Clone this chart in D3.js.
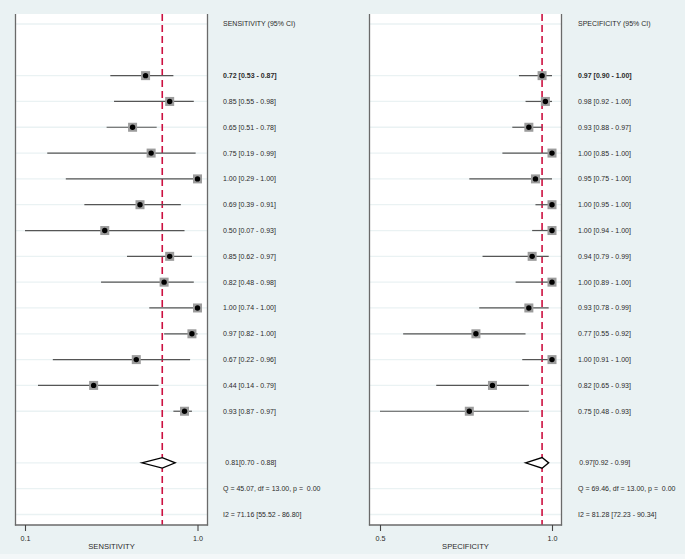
<!DOCTYPE html>
<html>
<head>
<meta charset="utf-8">
<script src="https://cdn.jsdelivr.net/npm/d3@7"></script>
<style>
  html, body { margin: 0; padding: 0; background: #eaf2f3; }
  svg { display: block; }
</style>
</head>
<body>
<svg id="chart" width="685" height="559"></svg>
<script>
// ---------- DATA ----------
const sensEst = [0.72, 0.85, 0.65, 0.75, 1.00, 0.69, 0.50, 0.85, 0.82, 1.00, 0.97, 0.67, 0.44, 0.93];
const sensLo  = [0.53, 0.55, 0.51, 0.19, 0.29, 0.39, 0.07, 0.62, 0.48, 0.74, 0.82, 0.22, 0.14, 0.87];
const sensHi  = [0.87, 0.98, 0.78, 0.99, 1.00, 0.91, 0.93, 0.97, 0.98, 1.00, 1.00, 0.96, 0.79, 0.97];

const specEst = [0.97, 0.98, 0.93, 1.00, 0.95, 1.00, 1.00, 0.94, 1.00, 0.93, 0.77, 1.00, 0.82, 0.75];
const specLo  = [0.90, 0.92, 0.88, 0.85, 0.75, 0.95, 0.94, 0.79, 0.89, 0.78, 0.55, 0.91, 0.65, 0.48];
const specHi  = [1.00, 1.00, 0.97, 1.00, 1.00, 1.00, 1.00, 0.99, 1.00, 0.99, 0.92, 1.00, 0.93, 0.93];

const sensPooled = [0.81, 0.70, 0.88];   // est, lo, hi
const specPooled = [0.97, 0.92, 0.99];

const headers    = ["SENSITIVITY (95% CI)", "SPECIFICITY (95% CI)"];
const axisTitles = ["SENSITIVITY", "SPECIFICITY"];
const qTexts     = ["Q = 45.07, df = 13.00, p =  0.00", "Q = 69.46, df = 13.00, p =  0.00"];
const i2Texts    = ["I2 = 71.16 [55.52 - 86.80]", "I2 = 81.28 [72.23 - 90.34]"];
const axisTicks  = [[0.07, 1.0], [0.48, 1.0]];   // min lower CI and 1.0, shown with one decimal

// ---------- LAYOUT ----------
const svg = d3.select("#chart");
const W = 685, H = 559;
const bg = "#eaf2f3";
svg.append("rect").attr("x", 0).attr("y", 0).attr("width", W).attr("height", H).attr("fill", bg);
svg.append("rect").attr("x", 0).attr("y", 554).attr("width", W).attr("height", 5).attr("fill", "#f3f7f8");

const rowY = d3.scaleLinear().domain([0, 19]).range([24, 514.5]);
const plotTop = 14, plotBottom = 525;
const fmt = d3.format(".2f");
const ciText = (e, l, h) => `${fmt(e)} [${fmt(l)} - ${fmt(h)}]`;

const panels = [
  { est: sensEst, lo: sensLo, hi: sensHi, pooled: sensPooled,
    frame: [15.5, 207.5], range: [25, 197.5], textX: 223, pooledTextX: 225.3,
    header: headers[0], title: axisTitles[0], q: qTexts[0], i2: i2Texts[0], ticks: axisTicks[0] },
  { est: specEst, lo: specLo, hi: specHi, pooled: specPooled,
    frame: [369.5, 561.5], range: [380, 552], textX: 578, pooledTextX: 579.3,
    header: headers[1], title: axisTitles[1], q: qTexts[1], i2: i2Texts[1], ticks: axisTicks[1] }
];

const txtColor = "#2a2a2a";
const fontFam = "'Liberation Sans', Arial, Helvetica, sans-serif";

panels.forEach(p => {
  const x = d3.scaleLinear().domain([p.ticks[0], p.ticks[1]]).range(p.range);
  const g = svg.append("g");
  const [fx0, fx1] = p.frame;

  // plot region
  g.append("rect").attr("x", fx0).attr("y", plotTop)
    .attr("width", fx1 - fx0).attr("height", plotBottom - plotTop).attr("fill", "#ffffff");

  // grid lines at content rows
  const gridRows = [0].concat(d3.range(2, 16)).concat([17, 18, 19]);
  g.selectAll(".grid").data(gridRows).join("line")
    .attr("x1", fx0).attr("x2", fx1)
    .attr("y1", d => rowY(d)).attr("y2", d => rowY(d))
    .attr("stroke", bg).attr("stroke-width", 1.3);

  // pooled dashed line
  g.append("line")
    .attr("x1", x(p.pooled[0])).attr("x2", x(p.pooled[0]))
    .attr("y1", plotTop).attr("y2", plotBottom)
    .attr("stroke", "#cc1040").attr("stroke-width", 1.6)
    .attr("stroke-dasharray", "7,4");

  const idx = d3.range(p.est.length);
  // CI lines
  g.selectAll(".ci").data(idx).join("line")
    .attr("x1", i => x(p.lo[i])).attr("x2", i => x(p.hi[i]))
    .attr("y1", i => rowY(i + 2)).attr("y2", i => rowY(i + 2))
    .attr("stroke", "#555555").attr("stroke-width", 1.2);
  // squares
  const s = 9;
  g.selectAll(".sq").data(idx).join("rect")
    .attr("x", i => x(p.est[i]) - s / 2).attr("y", i => rowY(i + 2) - s / 2)
    .attr("width", s).attr("height", s)
    .attr("fill", "#9c9c9c");
  // dots
  g.selectAll(".dot").data(idx).join("circle")
    .attr("cx", i => x(p.est[i])).attr("cy", i => rowY(i + 2))
    .attr("r", 2.7).attr("fill", "#000000");

  // diamond
  const dy = rowY(17), hh = 5.3;
  g.append("polygon")
    .attr("points", [[x(p.pooled[1]), dy], [x(p.pooled[0]), dy - hh], [x(p.pooled[2]), dy], [x(p.pooled[0]), dy + hh]]
      .map(d => d.join(",")).join(" "))
    .attr("fill", "#ffffff").attr("stroke", "#000000").attr("stroke-width", 1.3)
    .attr("stroke-linejoin", "miter");

  // frame: left, right, bottom
  const frameCol = "#6a6a6a";
  g.append("line").attr("x1", fx0).attr("x2", fx0).attr("y1", plotTop).attr("y2", plotBottom + 0.6)
    .attr("stroke", frameCol).attr("stroke-width", 1.3);
  g.append("line").attr("x1", fx1).attr("x2", fx1).attr("y1", plotTop).attr("y2", plotBottom + 0.6)
    .attr("stroke", frameCol).attr("stroke-width", 1.3);
  g.append("line").attr("x1", fx0 - 0.6).attr("x2", fx1 + 0.6).attr("y1", plotBottom).attr("y2", plotBottom)
    .attr("stroke", frameCol).attr("stroke-width", 1.3);

  // axis
  const axis = d3.axisBottom(x).tickValues(p.ticks).tickFormat(d3.format(".1f"))
    .tickSize(6).tickPadding(5);
  const ag = g.append("g").attr("transform", `translate(0,${plotBottom})`).call(axis);
  ag.select(".domain").remove();
  ag.selectAll(".tick line").attr("stroke", "#444").attr("stroke-width", 1.1);
  ag.selectAll(".tick text").attr("fill", txtColor).attr("font-size", 7.2).attr("font-family", fontFam);

  // axis title
  g.append("text").attr("x", (fx0 + fx1) / 2).attr("y", 549.3)
    .attr("text-anchor", "middle").attr("font-size", 7.6).attr("font-family", fontFam)
    .attr("fill", txtColor).text(p.title);

  // text column
  const tg = g.append("g").attr("font-family", fontFam).attr("font-size", 7).attr("fill", txtColor);
  tg.append("text").attr("x", p.textX).attr("y", rowY(0)).attr("dy", "0.35em").text(p.header);
  tg.selectAll(".ct").data(idx).join("text")
    .attr("x", p.textX).attr("y", i => rowY(i + 2)).attr("dy", "0.35em")
    .attr("font-weight", i => i === 0 ? "bold" : null)
    .text(i => ciText(p.est[i], p.lo[i], p.hi[i]));
  tg.append("text").attr("x", p.pooledTextX).attr("y", rowY(17)).attr("dy", "0.35em")
    .text(`${fmt(p.pooled[0])}[${fmt(p.pooled[1])} - ${fmt(p.pooled[2])}]`);
  tg.append("text").attr("x", p.textX).attr("y", rowY(18)).attr("dy", "0.35em")
    .attr("xml:space", "preserve").style("white-space", "pre").text(p.q);
  tg.append("text").attr("x", p.textX).attr("y", rowY(19)).attr("dy", "0.35em").text(p.i2);
});
</script>
</body>
</html>
